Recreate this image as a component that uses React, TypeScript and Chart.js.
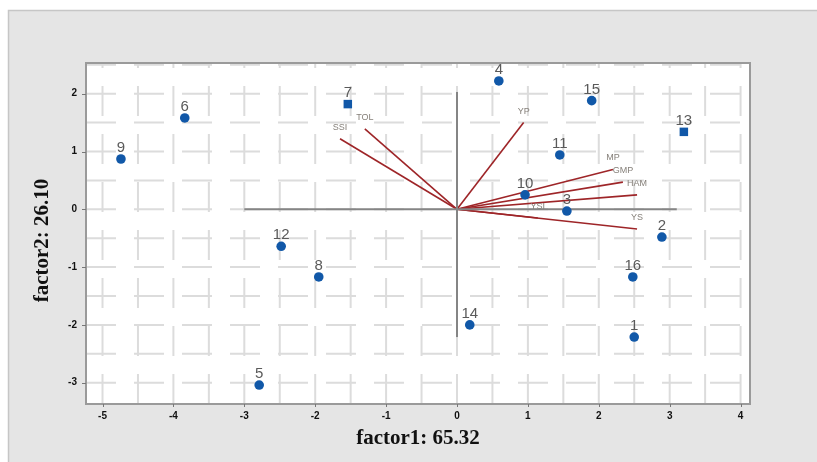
import { useEffect, useRef } from "react";
import { Chart, registerables } from "chart.js";

Chart.register(...registerables);

// Observations (genotypes) in factor space
const OBS_LABELS = ["1", "2", "3", "4", "5", "6", "7", "8", "9", "10", "11", "12", "13", "14", "15", "16"];
const OBS_X = [2.5, 2.89, 1.55, 0.59, -2.79, -3.84, -1.54, -1.95, -4.74, 0.96, 1.45, -2.48, 3.2, 0.18, 1.9, 2.48];
const OBS_Y = [-2.21, -0.48, -0.03, 2.22, -3.04, 1.58, 1.82, -1.17, 0.87, 0.25, 0.94, -0.64, 1.34, -2.0, 1.88, -1.17];
const SQUARE_OBS = ["7", "13"];

// Loading vectors (indices)
const VEC_LABELS = ["SSI", "TOL", "YP", "MP", "GMP", "HAM", "YS", "YSI"];
const VEC_X = [-1.65, -1.3, 0.94, 2.2, 2.34, 2.54, 2.54, 1.14];
const VEC_Y = [1.22, 1.39, 1.5, 0.69, 0.47, 0.25, -0.34, -0.15];

// Reference axis lines through origin
const AXIS_H_EXTENT = [-3.0, 3.1];
const AXIS_V_EXTENT = [-2.21, 2.03];

// Scales
const X_TICKS = [-5, -4, -3, -2, -1, 0, 1, 2, 3, 4];
const Y_TICKS = [-3, -2, -1, 0, 1, 2];
const X_RANGE = [-5.233, 4.133];
const Y_RANGE = [-3.368, 2.531];
const GRID_STEP = 0.5;

const X_TITLE = "factor1: 65.32";
const Y_TITLE = "factor2: 26.10";

const BLUE = "#1158a8";
const RED = "#9e2528";
const TITLE_FONT = "bold 21px 'Liberation Serif', 'Times New Roman', serif";

const framePlugin = {
  id: "frame",
  beforeDraw(chart: any) {
    const { ctx, chartArea: a } = chart;
    ctx.save();
    ctx.fillStyle = "#e5e5e5";
    ctx.fillRect(8, 10, 817 - 8, 462 - 10);
    ctx.strokeStyle = "#c6c6c6";
    ctx.lineWidth = 1.5;
    ctx.beginPath();
    ctx.moveTo(8.5, 462);
    ctx.lineTo(8.5, 10.5);
    ctx.lineTo(817, 10.5);
    ctx.stroke();
    ctx.fillStyle = "#ffffff";
    ctx.fillRect(a.left, a.top, a.right - a.left, a.bottom - a.top);
    ctx.restore();
  },
  beforeDatasetsDraw(chart: any) {
    const { ctx, chartArea: a, scales } = chart;
    const xs = scales.x;
    const ys = scales.y;
    ctx.save();
    ctx.beginPath();
    ctx.rect(a.left, a.top, a.right - a.left, a.bottom - a.top);
    ctx.clip();
    ctx.strokeStyle = "#dcdcdc";
    ctx.lineWidth = 2;
    ctx.setLineDash([30, 18]);
    for (let k = Math.ceil(X_RANGE[0] / GRID_STEP); k <= Math.floor(X_RANGE[1] / GRID_STEP); k++) {
      const px = xs.getPixelForValue(k * GRID_STEP);
      ctx.beginPath();
      ctx.moveTo(px, a.bottom);
      ctx.lineTo(px, a.top);
      ctx.stroke();
    }
    for (let k = Math.ceil(Y_RANGE[0] / GRID_STEP); k <= Math.floor(Y_RANGE[1] / GRID_STEP); k++) {
      const py = ys.getPixelForValue(k * GRID_STEP);
      ctx.beginPath();
      ctx.moveTo(a.left, py);
      ctx.lineTo(a.right, py);
      ctx.stroke();
    }
    ctx.restore();
  },
  afterDatasetsDraw(chart: any) {
    const { ctx, chartArea: a, scales } = chart;
    const ys = scales.y;
    const xs = scales.x;
    ctx.save();
    // plot border
    ctx.strokeStyle = "#9a9a9a";
    ctx.lineWidth = 2;
    ctx.strokeRect(a.left, a.top, a.right - a.left, a.bottom - a.top);
    // tick marks
    ctx.lineWidth = 1;
    ctx.strokeStyle = "#777";
    Y_TICKS.forEach((v) => {
      const py = Math.round(ys.getPixelForValue(v)) + 0.5;
      ctx.beginPath();
      ctx.moveTo(a.left - 4, py);
      ctx.lineTo(a.left, py);
      ctx.stroke();
    });
    X_TICKS.forEach((v) => {
      const px = Math.round(xs.getPixelForValue(v)) + 0.5;
      ctx.beginPath();
      ctx.moveTo(px, a.bottom);
      ctx.lineTo(px, a.bottom + 3);
      ctx.stroke();
    });

    // vector labels
    const vecStart = 3; // datasets: 0 obs, 1-2 axis lines, then vectors
    ctx.font = "9px 'Liberation Sans', Arial, sans-serif";
    ctx.fillStyle = "#86807a";
    ctx.textAlign = "center";
    ctx.textBaseline = "alphabetic";
    VEC_LABELS.forEach((lab, i) => {
      const meta = chart.getDatasetMeta(vecStart + i);
      const el = meta.data[1];
      ctx.fillText(lab, el.x, el.y - 9);
    });

    // observation labels
    const obsMeta = chart.getDatasetMeta(0);
    ctx.font = "15px 'Liberation Sans', Arial, sans-serif";
    ctx.fillStyle = "#5a5a5a";
    OBS_LABELS.forEach((lab, i) => {
      const el = obsMeta.data[i];
      ctx.fillText(lab, el.x, el.y - 7);
    });

    // y axis title (rotated)
    ctx.font = TITLE_FONT;
    ctx.fillStyle = "#111";
    ctx.textAlign = "center";
    ctx.textBaseline = "middle";
    ctx.translate(43, (a.top + a.bottom) / 2 + 7);
    ctx.rotate(-Math.PI / 2);
    ctx.fillText(Y_TITLE, 0, 0);
    ctx.restore();
  },
};

export default function App() {
  const ref = useRef<HTMLCanvasElement | null>(null);

  useEffect(() => {
    if (!ref.current) return;
    const obsData = OBS_X.map((x, i) => ({ x, y: OBS_Y[i] }));
    const vecSets = VEC_LABELS.map((lab, i) => ({
      label: lab,
      data: [
        { x: 0, y: 0 },
        { x: VEC_X[i], y: VEC_Y[i] },
      ],
      showLine: true,
      borderColor: RED,
      borderWidth: 1.6,
      pointRadius: 0,
      fill: false,
    }));
    const tickFont = { family: "'Liberation Sans', Arial, sans-serif", size: 10, weight: "bold" as any };
    const chart = new Chart(ref.current, {
      type: "scatter",
      data: {
        datasets: [
          {
            label: "obs",
            data: obsData,
            backgroundColor: BLUE,
            borderColor: BLUE,
            borderWidth: 0,
            pointStyle: OBS_LABELS.map((l) => (SQUARE_OBS.includes(l) ? "rect" : "circle")) as any,
            pointRadius: OBS_LABELS.map((l) => (SQUARE_OBS.includes(l) ? 6 : 4.8)) as any,
          },
          {
            label: "axisH",
            data: [
              { x: AXIS_H_EXTENT[0], y: 0 },
              { x: AXIS_H_EXTENT[1], y: 0 },
            ],
            showLine: true,
            borderColor: "#858585",
            borderWidth: 2,
            pointRadius: 0,
          },
          {
            label: "axisV",
            data: [
              { x: 0, y: AXIS_V_EXTENT[0] },
              { x: 0, y: AXIS_V_EXTENT[1] },
            ],
            showLine: true,
            borderColor: "#858585",
            borderWidth: 2,
            pointRadius: 0,
          },
          ...vecSets,
        ] as any,
      },
      options: {
        animation: false,
        responsive: false,
        devicePixelRatio: 1,
        layout: { padding: { left: 0, top: 63, right: 67, bottom: 0 } },
        plugins: { legend: { display: false }, tooltip: { enabled: false } },
        scales: {
          x: {
            type: "linear",
            min: X_RANGE[0],
            max: X_RANGE[1],
            afterBuildTicks: (s: any) => {
              s.ticks = X_TICKS.map((v) => ({ value: v }));
            },
            afterFit: (s: any) => {
              s.height = 58;
            },
            grid: { display: false, drawTicks: false },
            border: { display: false },
            ticks: {
              color: "#111",
              padding: 6,
              maxRotation: 0,
              autoSkip: false,
              font: tickFont,
              callback: (v: any) => String(v),
            },
            title: {
              display: true,
              text: X_TITLE,
              color: "#111",
              font: { family: "'Liberation Serif', 'Times New Roman', serif", size: 21, weight: "bold" },
              padding: { top: 0, bottom: 11 },
            },
          },
          y: {
            type: "linear",
            min: Y_RANGE[0],
            max: Y_RANGE[1],
            afterBuildTicks: (s: any) => {
              s.ticks = Y_TICKS.map((v) => ({ value: v }));
            },
            afterFit: (s: any) => {
              s.width = 86;
            },
            grid: { display: false, drawTicks: false },
            border: { display: false },
            ticks: {
              color: "#111",
              padding: 9,
              autoSkip: false,
              font: tickFont,
              callback: (v: any) => String(v),
            },
            title: { display: false },
          },
        },
      },
      plugins: [framePlugin],
    });
    return () => chart.destroy();
  }, []);

  return (
    <canvas
      ref={ref}
      width={817}
      height={462}
      style={{ position: "fixed", left: 0, top: 0, width: "817px", height: "462px" }}
    />
  );
}
